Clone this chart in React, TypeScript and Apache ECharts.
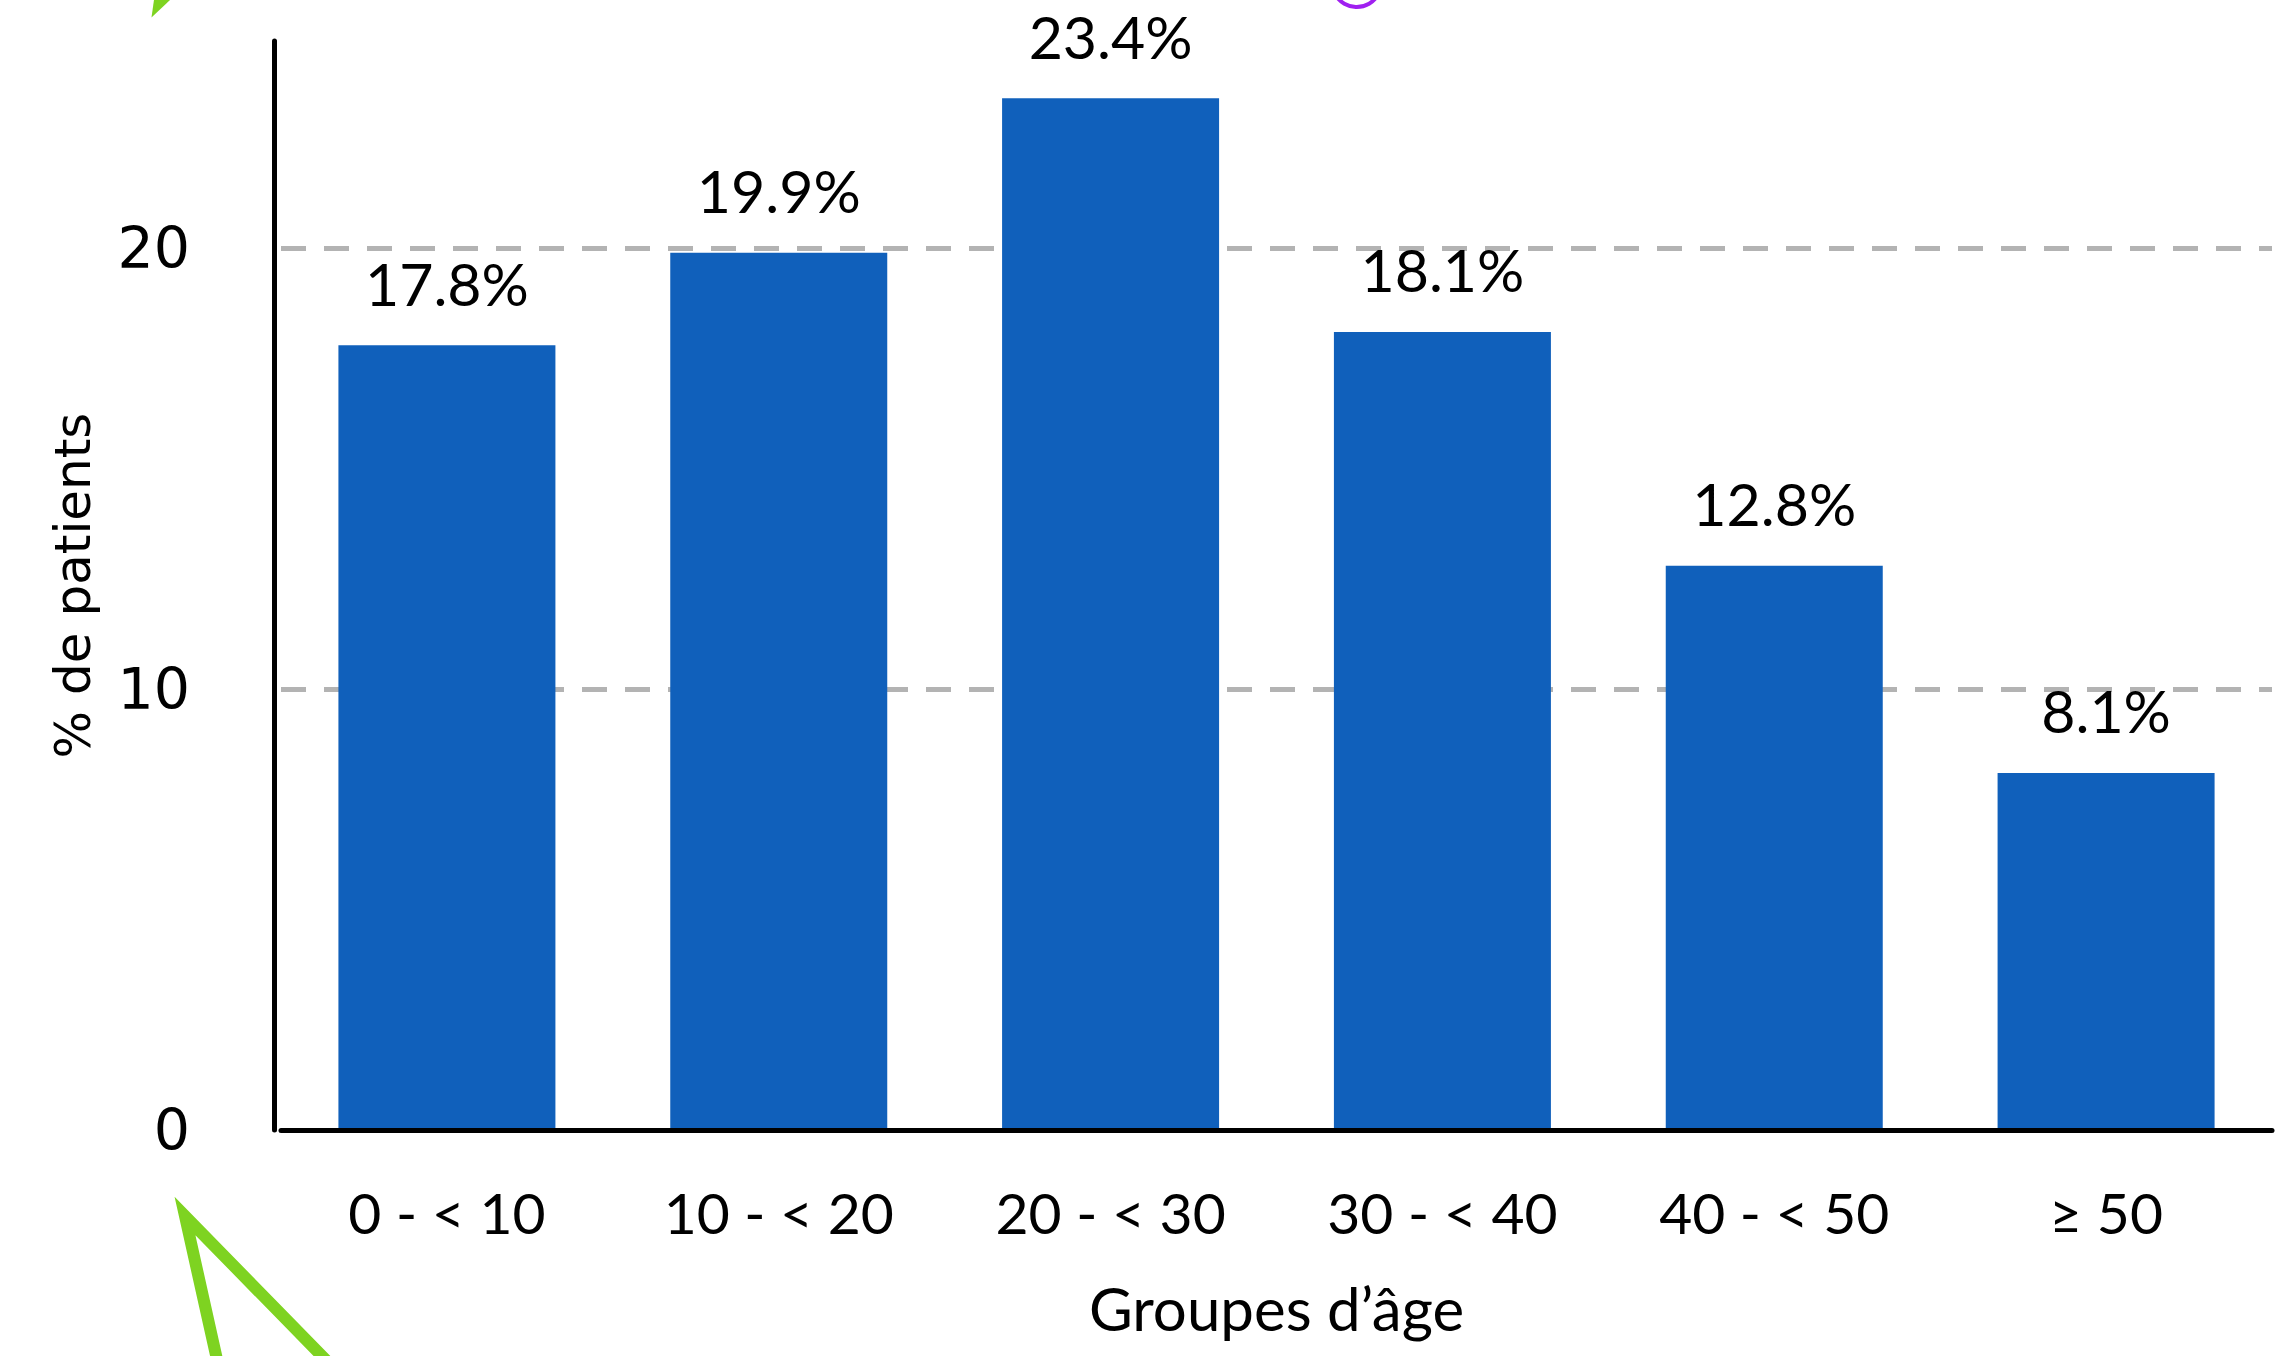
import React, { useEffect, useRef } from "react";
import * as echarts from "echarts";

const categories = ["0 - < 10", "10 - < 20", "20 - < 30", "30 - < 40", "40 - < 50", "≥ 50"];
const patientShare = [17.8, 19.9, 23.4, 18.1, 12.8, 8.1];
const yTicks = [0, 10, 20];
const yMax = 24.7;
const yInterval = 10;
const xAxisTitle = "Groupes d’âge";
const yAxisTitle = "% de patients";

export default function App() {
  const ref = useRef<HTMLDivElement>(null);
  useEffect(() => {
    const chart = echarts.init(ref.current as HTMLDivElement, null, { renderer: "svg" });
    chart.setOption({
      animation: false,
      backgroundColor: "#ffffff",
      grid: { left: 281, right: 10, top: 41, bottom: 226, containLabel: false },
      xAxis: {
        type: "category",
        data: categories,
        z: 5,
        axisLine: { show: true, lineStyle: { color: "#000000", width: 5 } },
        axisTick: { show: false },
        axisLabel: { fontFamily: "Lato", fontSize: 57, color: "#000000", margin: 53, lineHeight: 57 },
        name: xAxisTitle,
        nameLocation: "middle",
        nameGap: 148,
        nameTextStyle: { fontFamily: "Lato", fontSize: 60, color: "#000000", lineHeight: 60 },
      },
      yAxis: {
        type: "value",
        min: 0,
        max: yMax,
        interval: yInterval,
        offset: 7,
        axisLine: { show: true, lineStyle: { color: "#000000", width: 5 } },
        axisTick: { show: false },
        axisLabel: {
          fontFamily: "DejaVu Sans",
          fontSize: 57,
          color: "#000000",
          margin: 84,
          showMaxLabel: false,
          formatter: (v: number) => (yTicks.includes(v) ? String(v) : ""),
        },
        splitLine: {
          show: true,
          showMinLine: false,
          showMaxLine: false,
          lineStyle: { color: "#b3b3b3", width: 5, type: [25, 18] },
        },
        name: yAxisTitle,
        nameLocation: "middle",
        nameGap: 176,
        nameTextStyle: { fontFamily: "DejaVu Sans", fontSize: 50, color: "#000000" },
      },
      series: [
        {
          type: "bar",
          data: patientShare,
          barWidth: 217,
          itemStyle: { color: "#1060bb" },
          label: {
            show: true,
            position: "top",
            distance: 37,
            formatter: (p: any) => `${p.value}%`,
            fontFamily: "Lato",
            fontSize: 59,
            lineHeight: 50,
            color: "#000000",
          },
        },
      ],
      graphic: [
        {
          type: "polyline",
          silent: true,
          shape: { points: [[226, 1400], [185, 1216], [365, 1400]] },
          style: { stroke: "#7ed321", lineWidth: 12, fill: "none", lineJoin: "miter" },
        },
        {
          type: "polygon",
          silent: true,
          shape: { points: [[151.5, 17.5], [154.4, -3], [173.2, -3]] },
          style: { fill: "#7ed321" },
        },
        {
          type: "circle",
          silent: true,
          shape: { cx: 1356.7, cy: -17.7, r: 24.7 },
          style: { fill: "none", stroke: "#a020f0", lineWidth: 4 },
        },
      ],
    });
    return () => chart.dispose();
  }, []);
  return (
    <div
      ref={ref}
      style={{ position: "fixed", left: 0, top: 0, width: 2282, height: 1356, background: "#ffffff" }}
    />
  );
}
